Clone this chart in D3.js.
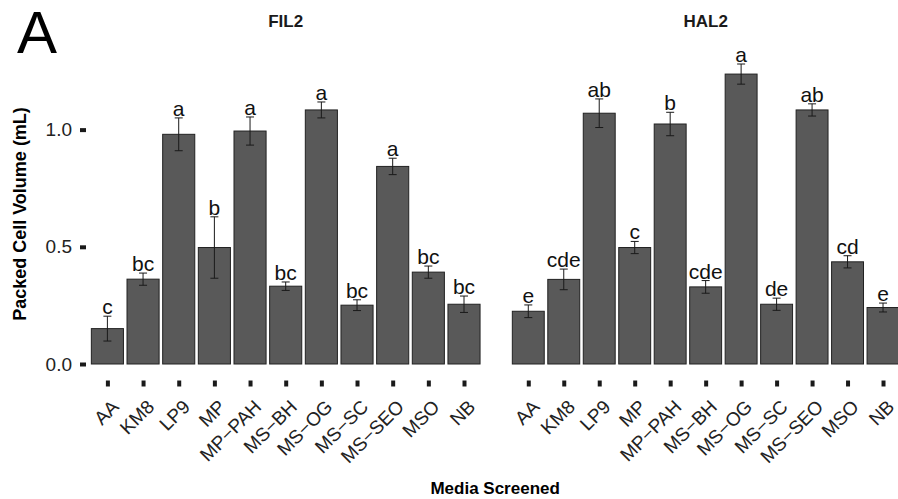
<!DOCTYPE html>
<html>
<head>
<meta charset="utf-8">
<script src="https://cdn.jsdelivr.net/npm/d3@7"></script>
<style>
  body { margin: 0; background: #fff; }
  svg text { font-family: "Liberation Sans", Arial, Helvetica, sans-serif; }
</style>
</head>
<body>
<svg id="chart"></svg>
<script>
// DATA -----------------------------------------------------------
const media = ["AA", "KM8", "LP9", "MP", "MP-PAH", "MS-BH", "MS-OG", "MS-SC", "MS-SEO", "MSO", "NB"]

const fil2Mean = [0.151, 0.362, 0.980, 0.497, 0.994, 0.332, 1.084, 0.251, 0.843, 0.392, 0.255]
const fil2Err = [0.053, 0.026, 0.070, 0.131, 0.060, 0.018, 0.034, 0.023, 0.035, 0.026, 0.035]
const fil2Letters = ["c", "bc", "a", "b", "a", "bc", "a", "bc", "a", "bc", "bc"]

const hal2Mean = [0.225, 0.361, 1.070, 0.497, 1.024, 0.329, 1.237, 0.255, 1.084, 0.436, 0.241]
const hal2Err = [0.027, 0.044, 0.061, 0.026, 0.050, 0.027, 0.043, 0.026, 0.026, 0.026, 0.019]
const hal2Letters = ["e", "cde", "ab", "c", "b", "cde", "a", "de", "ab", "cd", "e"]

const yTicks = [0, 0.5, 1.0]

const panels = [
    { title: "FIL2", mean: fil2Mean, err: fil2Err, letters: fil2Letters, x0: 86, x1: 485.4 },
    { title: "HAL2", mean: hal2Mean, err: hal2Err, letters: hal2Letters, x0: 507, x1: 904.3 }
]

// LAYOUT -----------------------------------------------------------
const width = 898
const height = 499
const panelTop = 49
const panelBottom = 379
const barColor = "#595959"
const inkColor = "#1a1a1a"

const svg = d3.select("#chart")
    .attr("width", width)
    .attr("height", height)

// shared y scale, ggplot-style 5% expansion
const yMax = d3.max(panels, p => d3.max(p.mean, (m, i) => m + p.err[i]))
const yPad = yMax * 0.05
const yScale = d3.scaleLinear()
    .domain([-yPad, yMax + yPad])
    .range([panelBottom, panelTop])

// y axis (left only)
const yAxis = svg.append("g")
    .attr("transform", `translate(${panels[0].x0}, 0)`)
    .call(d3.axisLeft(yScale).tickValues(yTicks).tickSize(6).tickPadding(8).tickFormat(d3.format(".1f")))
yAxis.select(".domain").remove()
yAxis.selectAll(".tick line").attr("stroke", inkColor).attr("stroke-width", 4)
yAxis.selectAll(".tick text")
    .attr("font-size", 19)
    .attr("fill", "#222")
    .attr("font-family", "Liberation Sans, Arial, sans-serif")

// DRAW PANELS -----------------------------------------------------------
panels.forEach(p => {
    const xScale = d3.scalePoint()
        .domain(media)
        .range([p.x0, p.x1])
        .padding(0.6)

    const step = xScale.step()
    const barW = step * 0.9
    const g = svg.append("g")

    const rows = media.map((m, i) => ({ media: m, mean: p.mean[i], err: p.err[i], letter: p.letters[i] }))

    // bars
    g.selectAll("rect.bar")
        .data(rows)
        .join("rect")
        .attr("class", "bar")
        .attr("x", d => xScale(d.media) - barW / 2)
        .attr("width", barW)
        .attr("y", d => yScale(d.mean))
        .attr("height", d => yScale(0) - yScale(d.mean))
        .attr("fill", barColor)
        .attr("stroke", "#222")
        .attr("stroke-width", 1)

    // error bars
    const capW = 4
    const eb = g.selectAll("g.err")
        .data(rows)
        .join("g")
        .attr("class", "err")
        .attr("stroke", inkColor)
        .attr("stroke-width", 1)
    eb.append("line")
        .attr("x1", d => xScale(d.media)).attr("x2", d => xScale(d.media))
        .attr("y1", d => yScale(d.mean + d.err)).attr("y2", d => yScale(d.mean - d.err))
    eb.append("line")
        .attr("x1", d => xScale(d.media) - capW).attr("x2", d => xScale(d.media) + capW)
        .attr("y1", d => yScale(d.mean + d.err)).attr("y2", d => yScale(d.mean + d.err))
    eb.append("line")
        .attr("x1", d => xScale(d.media) - capW).attr("x2", d => xScale(d.media) + capW)
        .attr("y1", d => yScale(d.mean - d.err)).attr("y2", d => yScale(d.mean - d.err))

    // significance letters
    g.selectAll("text.letter")
        .data(rows)
        .join("text")
        .attr("class", "letter")
        .attr("x", d => xScale(d.media))
        .attr("y", d => yScale(d.mean + d.err) - 2)
        .attr("text-anchor", "middle")
        .attr("font-size", 21)
        .attr("fill", "#111")
        .text(d => d.letter)

    // x axis ticks + rotated labels
    const xAxis = svg.append("g")
        .attr("transform", `translate(0, ${panelBottom + 1.5})`)
        .call(d3.axisBottom(xScale).tickSize(6).tickPadding(0))
    xAxis.select(".domain").remove()
    xAxis.selectAll(".tick line").attr("stroke", inkColor).attr("stroke-width", 4)
    xAxis.selectAll(".tick text")
        .attr("font-size", 19)
        .attr("fill", "#222")
        .attr("font-family", "Liberation Sans, Arial, sans-serif")
        .attr("text-anchor", "end")
        .attr("dy", "0.35em")
        .attr("transform", "translate(3, 18.5) rotate(-45)")
        .text(d => d.replace("-", "\u2212"))

    // facet title
    svg.append("text")
        .attr("x", (p.x0 + p.x1) / 2)
        .attr("y", 27)
        .attr("text-anchor", "middle")
        .attr("font-size", 17)
        .attr("font-weight", "bold")
        .attr("fill", "#1a1a1a")
        .text(p.title)
})

// TITLES -----------------------------------------------------------
svg.append("text")
    .attr("x", 17)
    .attr("y", 53)
    .attr("font-size", 60)
    .attr("fill", "#000")
    .text("A")

svg.append("text")
    .attr("transform", `translate(26, ${(panelTop + panelBottom) / 2}) rotate(-90)`)
    .attr("text-anchor", "middle")
    .attr("font-size", 18)
    .attr("font-weight", "bold")
    .attr("fill", "#000")
    .text("Packed Cell Volume (mL)")

svg.append("text")
    .attr("x", (panels[0].x0 + panels[1].x1) / 2)
    .attr("y", 494)
    .attr("text-anchor", "middle")
    .attr("font-size", 17)
    .attr("font-weight", "bold")
    .attr("fill", "#000")
    .text("Media Screened")
</script>
</body>
</html>
